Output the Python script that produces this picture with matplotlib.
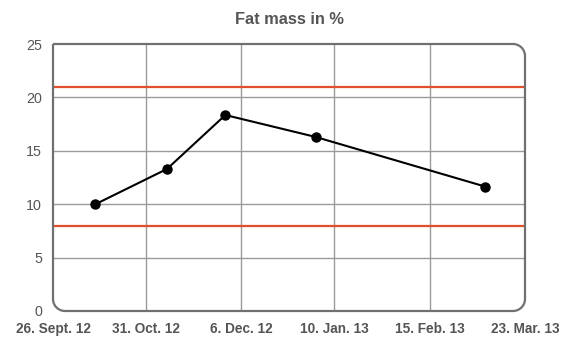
import matplotlib
matplotlib.use("Agg")
import matplotlib.pyplot as plt
import matplotlib.dates as mdates
from matplotlib.path import Path
from matplotlib.patches import PathPatch
import datetime as dt

plt.rcParams['font.family'] = ['Liberation Sans', 'DejaVu Sans']

title = "Fat mass in %"
dates = [dt.date(2012, 10, 12), dt.date(2012, 11, 8), dt.date(2012, 11, 30),
         dt.date(2013, 1, 3), dt.date(2013, 3, 8)]
values = [10.0, 13.3, 18.35, 16.3, 11.65]
upper_limit = 21
lower_limit = 8
tick_dates = [dt.date(2012, 9, 26), dt.date(2012, 10, 31), dt.date(2012, 12, 6),
              dt.date(2013, 1, 10), dt.date(2013, 2, 15), dt.date(2013, 3, 23)]
tick_labels = ["26. Sept. 12", "31. Oct. 12", "6. Dec. 12",
               "10. Jan. 13", "15. Feb. 13", "23. Mar. 13"]
yticks = [0, 5, 10, 15, 20, 25]

W, H = 570, 360
fig = plt.figure(figsize=(W / 100, H / 100), dpi=100)
L, R, T, B = 53, 525, 44, 311
ax = fig.add_axes([L / W, 1 - B / H, (R - L) / W, (B - T) / H])

xt = [mdates.date2num(d) for d in tick_dates]
ax.set_xlim(xt[0], xt[-1])
ax.set_ylim(0, 25)

grid_col = "#9a9a9a"
for x in xt[1:-1]:
    ax.axvline(x, color=grid_col, lw=1.0, zorder=1)
for y in yticks[1:-1]:
    ax.axhline(y, color=grid_col, lw=1.0, zorder=1)

red = "#e0502a"
ax.axhline(upper_limit, color=red, lw=1.6, zorder=2)
ax.axhline(lower_limit, color=red, lw=1.6, zorder=2)

ax.plot([mdates.date2num(d) for d in dates], values, color="black", lw=1.5,
        marker="o", ms=6.5, zorder=4, clip_on=False)

for s in ax.spines.values():
    s.set_visible(False)

# rounded frame: top-left square, other corners rounded
rp = 12.0
rx = rp / (R - L)
ry = rp / (B - T)
k = 0.5523
verts = [
    (0, 1),
    (1 - rx, 1),
    (1 - rx + k * rx, 1), (1, 1 - ry + k * ry), (1, 1 - ry),
    (1, ry),
    (1, ry - k * ry), (1 - rx + k * rx, 0), (1 - rx, 0),
    (rx, 0),
    (rx - k * rx, 0), (0, ry - k * ry), (0, ry),
    (0, 1),
]
codes = [Path.MOVETO, Path.LINETO,
         Path.CURVE4, Path.CURVE4, Path.CURVE4,
         Path.LINETO,
         Path.CURVE4, Path.CURVE4, Path.CURVE4,
         Path.LINETO,
         Path.CURVE4, Path.CURVE4, Path.CURVE4,
         Path.LINETO]
frame = PathPatch(Path(verts, codes), transform=ax.transAxes, fill=False,
                  edgecolor="#707070", lw=1.6, zorder=5, clip_on=False)
ax.add_patch(frame)

txt = "#555555"
ax.set_xticks(xt)
ax.set_xticklabels(tick_labels, fontsize=9.8, fontweight="bold", color=txt)
ax.set_yticks(yticks)
ax.set_yticklabels([str(v) for v in yticks], fontsize=10.3, color=txt)
ax.tick_params(axis="both", length=0)
ax.tick_params(axis="x", pad=8)
ax.tick_params(axis="y", pad=8)

fig.text((L + R) / 2 / W, 1 - 20 / H, title, ha="center", va="center",
         fontsize=11.8, fontweight="bold", color=txt)

fig.savefig("out.png", dpi=100, facecolor="white")
